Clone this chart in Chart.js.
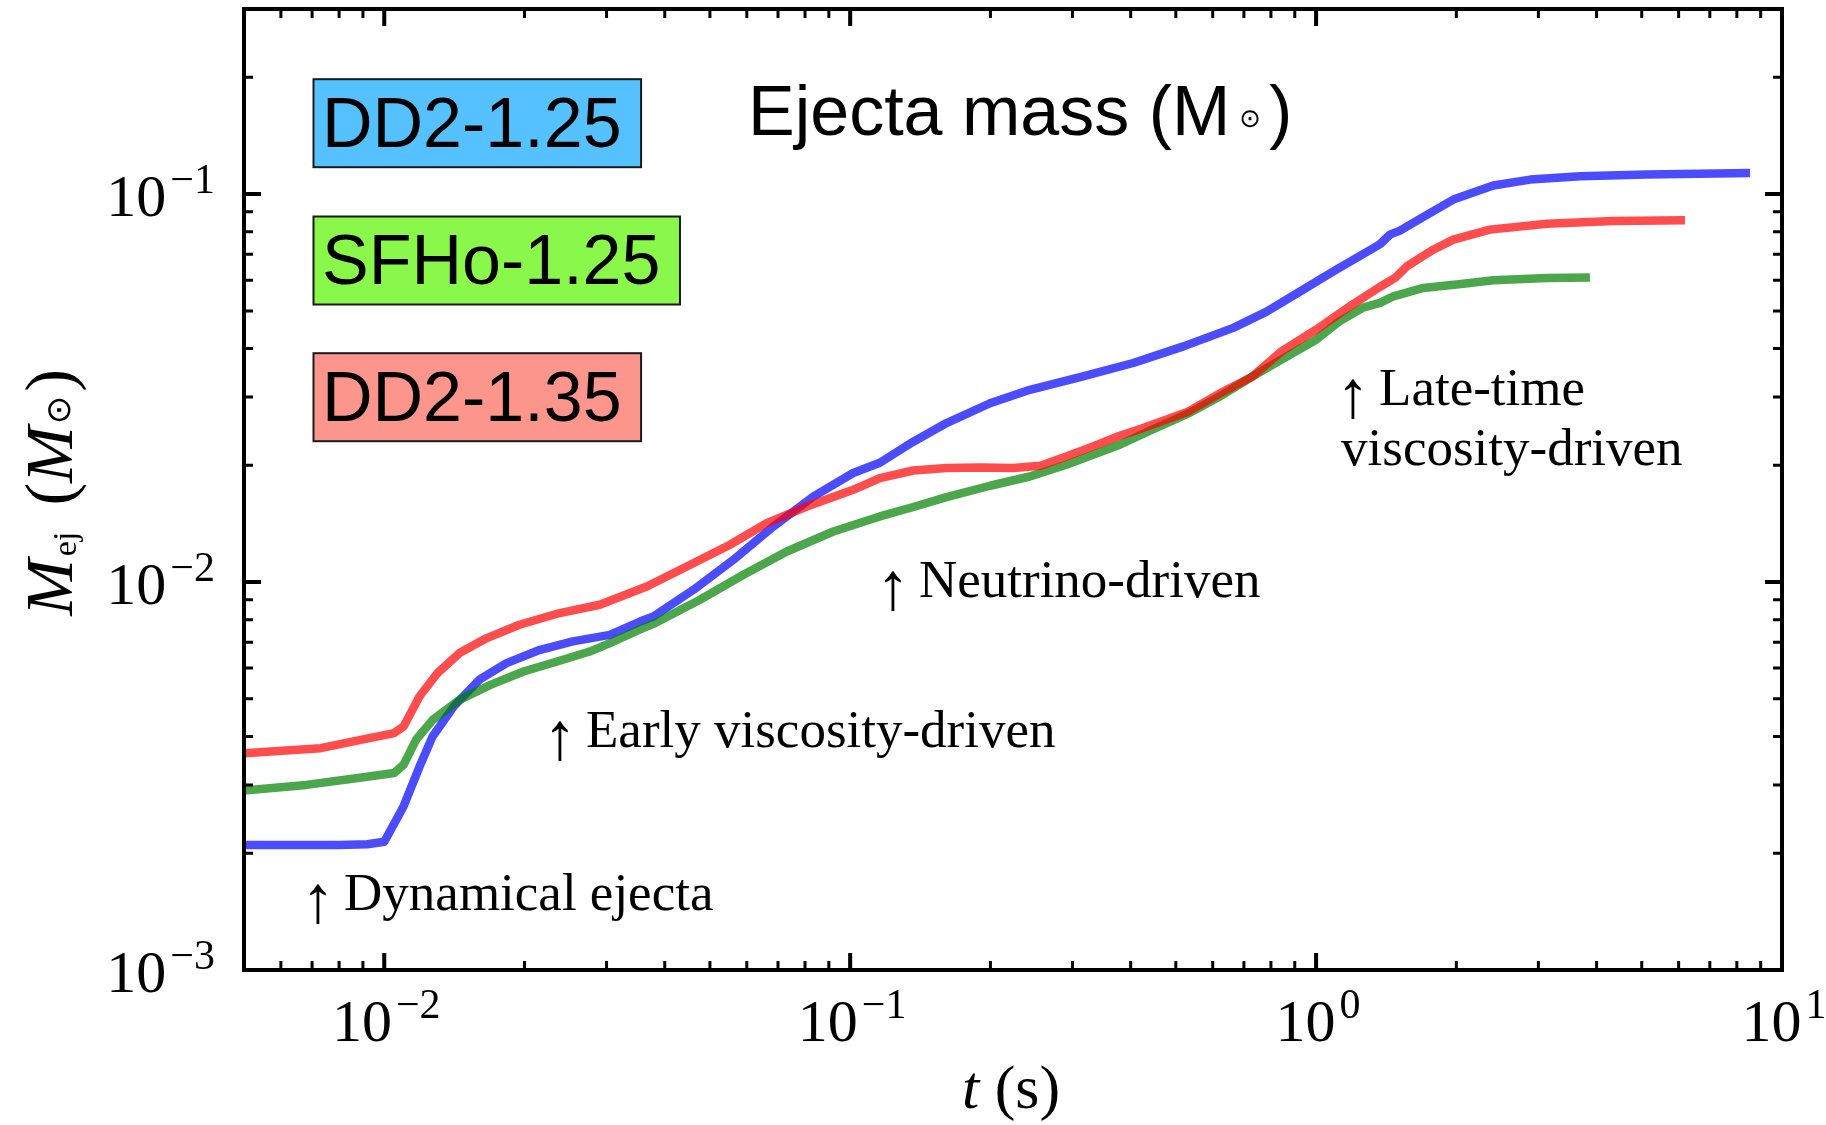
<!DOCTYPE html>
<html>
<head>
<meta charset="utf-8">
<title>Ejecta mass</title>
<script src="https://cdn.jsdelivr.net/npm/chart.js@4.4.1/dist/chart.umd.min.js"></script>
<style>
  html, body { margin: 0; padding: 0; background: #ffffff; }
  #box { width: 1826px; height: 1125px; }
</style>
</head>
<body>
<div id="box"><canvas id="mej" width="1826" height="1125"></canvas></div>
<script>
// time (s) and cumulative ejecta mass (Msun) for each model
const tDD2_125 = [0.005, 0.008, 0.0092, 0.01, 0.011, 0.0119, 0.0127, 0.0141, 0.016, 0.0183, 0.0216, 0.0254,
  0.0305, 0.0354, 0.0378, 0.0461, 0.0561, 0.0684, 0.0833, 0.1015, 0.1158, 0.1366, 0.161, 0.1996, 0.243, 0.316,
  0.405, 0.519, 0.664, 0.783, 0.924, 1.089, 1.327, 1.372, 1.44, 1.514, 1.671, 1.97, 2.40, 2.88, 3.69, 5.12, 8.54];
const mDD2_125 = [0.0021, 0.0021, 0.00211, 0.00214, 0.00264, 0.00334, 0.0040, 0.00478, 0.0056, 0.00618, 0.00669, 0.00703,
  0.00731, 0.00791, 0.00815, 0.00955, 0.0114, 0.0139, 0.0166, 0.0191, 0.0203, 0.0230, 0.0257, 0.0289, 0.0313, 0.0339,
  0.0367, 0.0405, 0.0452, 0.0498, 0.0561, 0.0632, 0.0726, 0.0743, 0.0786, 0.0805, 0.0863, 0.0968, 0.1052, 0.109, 0.1112, 0.1123, 0.1134];

const tSFHo_125 = [0.005, 0.0068, 0.0087, 0.0105, 0.011, 0.0117, 0.0127, 0.0145, 0.0169, 0.0199, 0.0235, 0.0276,
  0.0305, 0.0354, 0.0378, 0.0476, 0.059, 0.0731, 0.092, 0.1158, 0.1366, 0.161, 0.1996, 0.243, 0.291, 0.332,
  0.379, 0.44, 0.531, 0.631, 0.729, 0.841, 1.0, 1.12, 1.261, 1.372, 1.465, 1.699, 2.07, 2.40, 3.13, 3.87];
const mSFHo_125 = [0.0029, 0.0030, 0.00312, 0.00322, 0.00338, 0.00392, 0.00441, 0.00497, 0.00543, 0.00588, 0.00624, 0.00662,
  0.00696, 0.00755, 0.0078, 0.0090, 0.01044, 0.01199, 0.0135, 0.01476, 0.01561, 0.01656, 0.01771, 0.01871, 0.02006, 0.02129,
  0.02259, 0.02455, 0.02716, 0.0304, 0.03383, 0.03742, 0.04214, 0.04691, 0.05099, 0.05243, 0.05452, 0.05729, 0.05877, 0.05994, 0.06078, 0.061];

const tDD2_135 = [0.005, 0.0073, 0.0089, 0.0105, 0.011, 0.0119, 0.013, 0.0145, 0.0166, 0.0195, 0.0238, 0.029,
  0.0366, 0.0446, 0.0552, 0.0662, 0.0807, 0.1015, 0.1158, 0.1366, 0.161, 0.19, 0.224, 0.256, 0.291, 0.332,
  0.379, 0.421, 0.531, 0.631, 0.729, 0.841, 1.0, 1.188, 1.372, 1.477, 1.565, 1.784, 1.97, 2.36, 3.13, 4.34, 6.19];
const mDD2_135 = [0.00362, 0.00373, 0.00392, 0.00408, 0.00424, 0.00507, 0.00582, 0.00656, 0.00717, 0.00776, 0.00832, 0.00874,
  0.00974, 0.01097, 0.01248, 0.01419, 0.01566, 0.01729, 0.01854, 0.01939, 0.01967, 0.01974, 0.01967, 0.01994, 0.02107, 0.02237,
  0.02383, 0.02485, 0.02749, 0.03094, 0.03383, 0.03925, 0.04472, 0.0516, 0.0577, 0.0608, 0.0651, 0.0719, 0.0763, 0.081, 0.0839, 0.0853, 0.0856];

const modelNames = ['DD2-1.25', 'SFHo-1.25', 'DD2-1.35'];
const phaseNotes = [['Dynamical ejecta'], ['Early viscosity-driven'], ['Neutrino-driven'], ['Late-time', 'viscosity-driven']];

// log axes: decades and the exponents printed under them
const xMajorTicks = [0.01, 0.1, 1, 10];
const xTickExponents = ['\u22122', '\u22121', '0', '1'];
const yMajorTicks = [0.001, 0.01, 0.1];
const yTickExponents = ['\u22123', '\u22122', '\u22121'];
const minorSteps = [2, 3, 4, 5, 6, 7, 8, 9];

const lineColors = ['rgba(0, 0, 255, 0.7)', 'rgba(0, 128, 0, 0.7)', 'rgba(255, 0, 0, 0.7)'];
const boxColors = ['#56c1ff', '#8af74b', '#fc968c'];

const SERIF = '"Liberation Serif", "Times New Roman", serif';
const SANS = '"Liberation Sans", Arial, sans-serif';
const SYMBOL = '"DejaVu Sans", sans-serif';

function toPoints(ts, ms) {
    return ts.map((t, i) => ({ x: t, y: ms[i] }));
}

function minorValues(scale) {
    const out = [];
    const lo = Math.floor(Math.log10(scale.min));
    const hi = Math.ceil(Math.log10(scale.max));
    for (let e = lo; e < hi; e++) {
        minorSteps.forEach(m => {
            const v = m * Math.pow(10, e);
            if (v > scale.min * 1.0001 && v < scale.max * 0.9999) out.push(v);
        });
    }
    return out;
}

function drawFrame(ctx, a, xs, ys) {
    ctx.strokeStyle = '#000';
    ctx.lineCap = 'butt';
    const onX = (v, len, w) => {
        const p = xs.getPixelForValue(v);
        ctx.lineWidth = w;
        ctx.beginPath();
        ctx.moveTo(p, a.bottom); ctx.lineTo(p, a.bottom - len);
        ctx.moveTo(p, a.top); ctx.lineTo(p, a.top + len);
        ctx.stroke();
    };
    const onY = (v, len, w) => {
        const p = ys.getPixelForValue(v);
        ctx.lineWidth = w;
        ctx.beginPath();
        ctx.moveTo(a.left, p); ctx.lineTo(a.left + len, p);
        ctx.moveTo(a.right, p); ctx.lineTo(a.right - len, p);
        ctx.stroke();
    };
    minorValues(xs).forEach(v => onX(v, 9, 3));
    xMajorTicks.forEach(v => onX(v, 17, 4));
    minorValues(ys).forEach(v => onY(v, 9, 3));
    yMajorTicks.forEach(v => onY(v, 17, 4));
    ctx.lineWidth = 4;
    ctx.strokeRect(a.left, a.top, a.right - a.left, a.bottom - a.top);
}

// "10" with a raised exponent
function powerLabel(ctx, x, y, exp, align) {
    ctx.font = `60px ${SERIF}`;
    const wBase = ctx.measureText('10').width;
    ctx.font = `42px ${SERIF}`;
    const wExp = ctx.measureText(exp).width;
    const w = wBase + 4 + wExp;
    const x0 = align === 'right' ? x - w : x - w / 2;
    ctx.font = `60px ${SERIF}`;
    ctx.fillText('10', x0, y);
    ctx.font = `42px ${SERIF}`;
    ctx.fillText(exp, x0 + wBase + 4, y - 23);
}

function drawXLabel(ctx, cx, y) {
    ctx.font = `italic 62px ${SERIF}`;
    const wt = ctx.measureText('t').width;
    ctx.font = `62px ${SERIF}`;
    const ws = ctx.measureText(' (s)').width;
    const x0 = cx - (wt + ws) / 2;
    ctx.font = `italic 62px ${SERIF}`;
    ctx.fillText('t', x0, y);
    ctx.font = `62px ${SERIF}`;
    ctx.fillText(' (s)', x0 + wt, y);
}

function drawYLabel(ctx, x, cy) {
    const parts = [
        { s: 'M', f: `italic 68px ${SERIF}`, dy: 0, gap: 3 },
        { s: 'ej', f: `34px ${SERIF}`, dy: 4, gap: 26 },
        { s: '(', f: `68px ${SERIF}`, dy: 0, gap: 0 },
        { s: 'M', f: `italic 68px ${SERIF}`, dy: 0, gap: 2 },
        { s: '\u2299', f: `34px ${SYMBOL}`, dy: -2, gap: 4 },
        { s: ')', f: `68px ${SERIF}`, dy: 0, gap: 0 }
    ];
    let total = 0;
    parts.forEach(p => { ctx.font = p.f; p.w = ctx.measureText(p.s).width; total += p.w + p.gap; });
    ctx.save();
    ctx.translate(x, cy);
    ctx.rotate(-Math.PI / 2);
    let u = -total / 2;
    parts.forEach(p => {
        ctx.font = p.f;
        ctx.fillText(p.s, u, p.dy);
        u += p.w + p.gap;
    });
    ctx.restore();
}

function drawTitle(ctx, x, y) {
    const head = 'Ejecta mass (M';
    ctx.font = `70px ${SANS}`;
    ctx.fillText(head, x, y);
    let u = x + ctx.measureText(head).width + 9;
    ctx.font = `26px ${SYMBOL}`;
    ctx.fillText('\u2299', u, y - 8);
    u += ctx.measureText('\u2299').width + 8;
    ctx.font = `70px ${SANS}`;
    ctx.fillText(')', u, y);
}

function drawModelBoxes(ctx, a) {
    const baselines = [137.7, 275, 411.7];
    ctx.font = `70px ${SANS}`;
    modelNames.forEach((name, i) => {
        const tx = a.left + 78;
        const ty = a.top + baselines[i];
        const w = ctx.measureText(name).width;
        ctx.fillStyle = boxColors[i];
        ctx.fillRect(tx - 8.5, ty - 67.5, w + 28, 88);
        ctx.lineWidth = 2;
        ctx.strokeStyle = '#1a1a1a';
        ctx.strokeRect(tx - 8.5, ty - 67.5, w + 28, 88);
        ctx.fillStyle = '#000';
        ctx.fillText(name, tx, ty);
    });
}

// arrow + text, anchored at the text's left baseline in data coordinates
const notePlacement = [[0.0082, 0.00143], [0.0271, 0.00376], [0.1405, 0.00916], [1.365, 0.02865]];

function drawNotes(ctx, xs, ys) {
    phaseNotes.forEach((lines, i) => {
        const px = xs.getPixelForValue(notePlacement[i][0]);
        const py = ys.getPixelForValue(notePlacement[i][1]);
        ctx.textAlign = 'center';
        ctx.font = `67px ${SERIF}`;
        ctx.fillText('\u2191', px - 26, py + 12);
        ctx.textAlign = 'left';
        ctx.font = `53px ${SERIF}`;
        ctx.fillText(lines[0], px, py);
        if (lines[1]) ctx.fillText(lines[1], px - 38, py + 60);
    });
}

const decorations = {
    id: 'decorations',
    beforeDraw(chart) {
        const { ctx, width, height } = chart;
        ctx.save();
        ctx.fillStyle = '#ffffff';
        ctx.fillRect(0, 0, width, height);
        ctx.restore();
    },
    afterDatasetsDraw(chart) {
        const { ctx, chartArea: a } = chart;
        const xs = chart.scales.x, ys = chart.scales.y;
        ctx.save();
        ctx.textBaseline = 'alphabetic';
        ctx.textAlign = 'left';
        drawFrame(ctx, a, xs, ys);

        ctx.fillStyle = '#000';
        xMajorTicks.forEach((v, i) => powerLabel(ctx, xs.getPixelForValue(v) + 2, a.bottom + 71, xTickExponents[i], 'center'));
        yMajorTicks.forEach((v, i) => powerLabel(ctx, a.left - 29, ys.getPixelForValue(v) + 22, yTickExponents[i], 'right'));
        drawXLabel(ctx, (a.left + a.right) / 2 - 2, a.bottom + 138);
        drawYLabel(ctx, 72, (a.top + a.bottom) / 2 + 3);

        drawModelBoxes(ctx, a);
        ctx.fillStyle = '#000';
        drawTitle(ctx, a.left + 504, a.top + 126);
        drawNotes(ctx, xs, ys);
        ctx.restore();
    }
};

const series = [
    { label: modelNames[0], data: toPoints(tDD2_125, mDD2_125), borderColor: lineColors[0], order: 3 },
    { label: modelNames[1], data: toPoints(tSFHo_125, mSFHo_125), borderColor: lineColors[1], order: 2 },
    { label: modelNames[2], data: toPoints(tDD2_135, mDD2_135), borderColor: lineColors[2], order: 1 }
].map(d => Object.assign(d, {
    borderWidth: 8.5,
    pointRadius: 0,
    tension: 0,
    fill: false,
    borderJoinStyle: 'round',
    borderCapStyle: 'butt'
}));

new Chart(document.getElementById('mej'), {
    type: 'line',
    data: { datasets: series },
    options: {
        responsive: false,
        devicePixelRatio: 1,
        animation: false,
        layout: { padding: { left: 244, right: 44, top: 9, bottom: 155 } },
        scales: {
            x: { type: 'logarithmic', min: 0.005, max: 10, display: false },
            y: { type: 'logarithmic', min: 0.001, max: 0.3, display: false }
        },
        plugins: {
            legend: { display: false },
            tooltip: { enabled: false }
        }
    },
    plugins: [decorations]
});
</script>
</body>
</html>
